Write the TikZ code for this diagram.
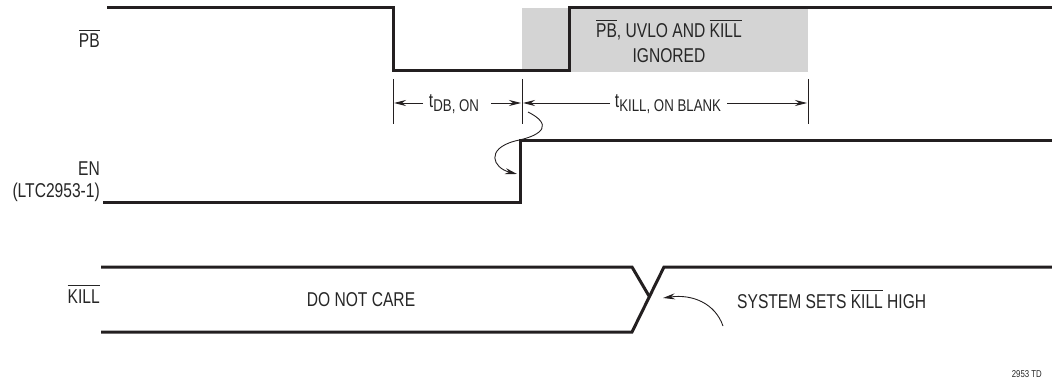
\documentclass[tikz,border=0pt]{standalone}
\usepackage{fontspec}
\setmainfont{Liberation Sans}[FakeStretch=0.78]
\usetikzlibrary{arrows.meta}
\definecolor{sig}{HTML}{231F20}
\definecolor{txt}{HTML}{262626}
\definecolor{boxgray}{HTML}{D4D4D4}
\newcommand\ovl[1]{\leavevmode\vbox{\hrule height 0.9pt\kern 3.2pt\hbox{#1}}}
\newcommand\sub[1]{\raisebox{-4pt}{\fontsize{17}{18}\selectfont #1}}
\begin{document}
\begin{tikzpicture}[x=1pt,y=-1pt,
  sigline/.style={line width=3pt,color=sig,line join=miter},
  thinl/.style={line width=0.9pt,color=sig},
  arr/.style={-{Stealth[length=12pt,width=6pt]}},
  lbl/.style={text=txt,font=\fontsize{20}{22}\selectfont,inner sep=0pt},
  tiny/.style={text=txt,font=\fontsize{10}{11}\selectfont,inner sep=0pt}]
\useasboundingbox (0,0) rectangle (1052,385);
% ignored region
\fill[boxgray] (522,8) rectangle (808,72);
\node[lbl,align=center,anchor=base] (ign) at (669,63) {\ovl{PB}, UVLO AND \ovl{KILL}\\[3pt]IGNORED};
% signal labels
\node[lbl,anchor=base east] (lpb) at (100,48) {\ovl{PB}};
\node[lbl,anchor=base east,align=right] (len) at (100,197) {EN\\(LTC2953-1)};
\node[lbl,anchor=base east] (lkill) at (100,303) {\ovl{KILL}};
% PB waveform
\coordinate (pb0) at (107,8);
\coordinate (pb1) at (393,71);
\coordinate (pb2) at (569,8);
\coordinate (pb3) at (1052,8);
\draw[sigline] (pb0) -| (pb1) -| (pb2) -- (pb3);
% EN waveform
\coordinate (en0) at (103,202);
\coordinate (en1) at (520,141);
\coordinate (en2) at (1052,141);
\draw[sigline] (en0) -| (en1) -- (en2);
% KILL waveform
\coordinate (k0) at (101,267);
\coordinate (k1) at (632,267);
\coordinate (k2) at (649,296);
\coordinate (k3) at (664,267);
\coordinate (k4) at (1052,267);
\coordinate (k5) at (632,332);
\coordinate (k6) at (101,332);
\draw[sigline] (k0) -- (k1) -- (k2);
\draw[sigline] (k4) -- (k3) -- (k5) -- (k6);
\node[lbl,anchor=base] (dnc) at (361,306) {DO NOT CARE};
\node[lbl,anchor=base west] (sys) at (737,308) {SYSTEM SETS \ovl{KILL} HIGH};
% timing ticks
\coordinate (ta1) at (393,79); \coordinate (tb1) at (393,124);
\coordinate (ta2) at (522,79); \coordinate (tb2) at (522,124);
\coordinate (ta3) at (808,79); \coordinate (tb3) at (808,124);
\draw[thinl] (ta1) -- (tb1) (ta2) -- (tb2) (ta3) -- (tb3);
\node[lbl,anchor=base] (tdb) at (454,108) {t\sub{DB, ON}};
\node[lbl,anchor=base] (tkill) at (668,108) {t\sub{KILL, ON BLANK}};
\coordinate (a1s) at (423,103); \coordinate (a1e) at (394,103);
\coordinate (a2s) at (491,103); \coordinate (a2e) at (521,103);
\coordinate (a3s) at (610,103); \coordinate (a3e) at (523,103);
\coordinate (a4s) at (727,103); \coordinate (a4e) at (807,103);
\draw[thinl,arr] (a1s) -- (a1e);
\draw[thinl,arr] (a2s) -- (a2e);
\draw[thinl,arr] (a3s) -- (a3e);
\draw[thinl,arr] (a4s) -- (a4e);
% curved arrows
\coordinate (c1s) at (528,112);
\coordinate (c1m) at (515,141);
\coordinate (c1e) at (517,174);
\draw[thinl,arr] (c1s) .. controls (552,124) and (545,135) .. (c1m)
  .. controls (485,149) and (493,168) .. (c1e);
\coordinate (c2s) at (723,326);
\coordinate (c2e) at (663,298);
\draw[thinl,arr] (c2s) .. controls (715,303) and (692,294) .. (c2e);
\node[tiny,anchor=base east] (td) at (1042,377) {2953 TD};
\end{tikzpicture}
\end{document}
